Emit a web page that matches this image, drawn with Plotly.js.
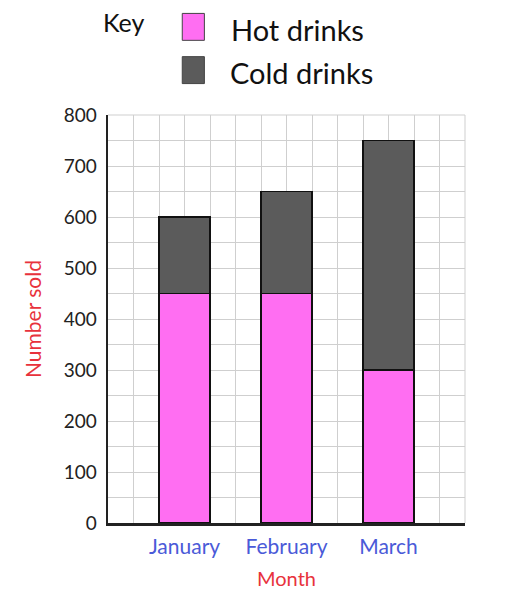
<!DOCTYPE html>
<html>
<head>
<meta charset="utf-8">
<script src="https://cdn.plot.ly/plotly-3.0.1.min.js"></script>
<style>html,body{margin:0;padding:0;background:#fff;}#chart{width:506px;height:597px;}</style>
</head>
<body>
<div id="chart"></div>
<script>
const months = ["January", "February", "March"];
const monthPos = [3, 7, 11];
const hotDrinks = [450, 450, 300];
const coldDrinks = [150, 200, 450];
const seriesNames = ["Hot drinks", "Cold drinks"];
const seriesColors = ["#ff6ef2", "#5b5b5b"];
const yTicks = [0, 100, 200, 300, 400, 500, 600, 700, 800];

const fontFam = "Lato, 'Open Sans', sans-serif";

const traces = [
  {type: "bar", x: monthPos, y: hotDrinks, name: seriesNames[0], width: 2,
   marker: {color: seriesColors[0], line: {color: "#111", width: 1.5}}, showlegend: false},
  {type: "bar", x: monthPos, y: coldDrinks, name: seriesNames[1], width: 2,
   marker: {color: seriesColors[1], line: {color: "#111", width: 1.5}}, showlegend: false}
];

const layout = {
  width: 506, height: 597,
  margin: {l: 108, r: 41, t: 115, b: 74},
  paper_bgcolor: "#fff", plot_bgcolor: "#fff",
  barmode: "stack",
  xaxis: {
    range: [0, 14], tickvals: monthPos, ticktext: months,
    showgrid: false, zeroline: false,
    showline: true, linecolor: "#222", linewidth: 2.5,
    ticks: "", ticklabelstandoff: 3,
    tickfont: {family: fontFam, size: 21, color: "#4a5ad8"},
    minor: {dtick: 1, tick0: 0, showgrid: true, gridcolor: "#cfcfcf", gridwidth: 1, ticks: ""},
    title: {text: "Month", font: {family: fontFam, size: 20, color: "#e8323c"}, standoff: 16},
    fixedrange: true
  },
  yaxis: {
    range: [0, 800], tickvals: yTicks,
    showgrid: true, gridcolor: "#cfcfcf", gridwidth: 1, zeroline: false,
    showline: true, linecolor: "#222", linewidth: 2.5,
    ticks: "", ticklabelstandoff: 5,
    tickfont: {family: fontFam, size: 19, color: "#222"},
    minor: {dtick: 50, tick0: 0, showgrid: true, gridcolor: "#cfcfcf", gridwidth: 1, ticks: ""},
    title: {text: "Number sold", font: {family: fontFam, size: 21, color: "#e8323c"}, standoff: 17},
    fixedrange: true
  },
  shapes: [
    {type: "line", xref: "paper", yref: "paper", x0: 1, x1: 1, y0: 0, y1: 1, line: {color: "#cfcfcf", width: 1}},
    {type: "line", xref: "paper", yref: "paper", x0: 0, x1: 1, y0: 1, y1: 1, line: {color: "#cfcfcf", width: 1}},
    {type: "rect", xref: "paper", yref: "paper", x0: 0.208, x1: 0.27, y0: 1.183, y1: 1.249,
     fillcolor: seriesColors[0], line: {color: "#444", width: 1}},
    {type: "rect", xref: "paper", yref: "paper", x0: 0.208, x1: 0.27, y0: 1.077, y1: 1.143,
     fillcolor: seriesColors[1], line: {color: "#444", width: 1}}
  ],
  annotations: [
    {text: "Key", xref: "paper", yref: "paper", x: -0.02, y: 1.228, xanchor: "left", yanchor: "middle",
     showarrow: false, font: {family: fontFam, size: 25, color: "#111"}},
    {text: seriesNames[0], xref: "paper", yref: "paper", x: 0.34, y: 1.21, xanchor: "left", yanchor: "middle",
     showarrow: false, font: {family: fontFam, size: 29, color: "#111"}},
    {text: seriesNames[1], xref: "paper", yref: "paper", x: 0.335, y: 1.103, xanchor: "left", yanchor: "middle",
     showarrow: false, font: {family: fontFam, size: 29, color: "#111"}}
  ],
  showlegend: false
};

Plotly.newPlot("chart", traces, layout, {displayModeBar: false, staticPlot: true});
</script>
</body>
</html>
